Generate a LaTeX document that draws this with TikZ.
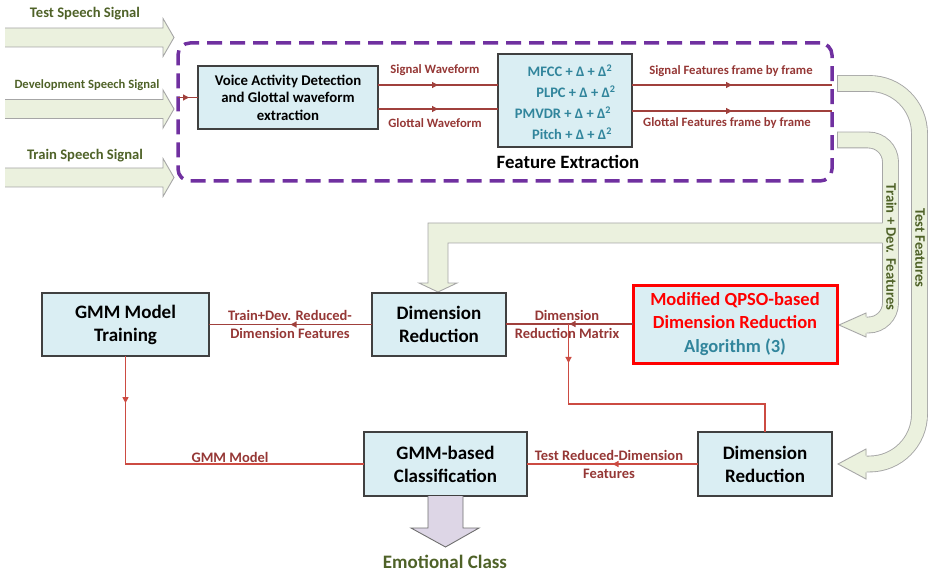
\documentclass[tikz,border=0pt]{standalone}
\usepackage{fontspec}
\setmainfont{Carlito}
\usetikzlibrary{arrows.meta,decorations.markings}
\definecolor{boxfill}{HTML}{DAEEF3}
\definecolor{boxline}{HTML}{404040}
\definecolor{lnred}{HTML}{A0403C}
\definecolor{lnbright}{HTML}{CC4B42}
\definecolor{lblred}{HTML}{953735}
\definecolor{grtext}{HTML}{4F6228}
\definecolor{bandfill}{HTML}{EBF1DE}
\definecolor{bandline}{HTML}{A6A6A6}
\definecolor{purp}{HTML}{7030A0}
\definecolor{algteal}{HTML}{31859C}
\definecolor{lav}{HTML}{DDD6E6}
\definecolor{lavline}{HTML}{6F6F6F}
\newcommand{\inarrow}[1]{%
  \fill[bandfill] (5,#1-9.5) -- (163,#1-9.5) -- (163,#1-19) -- (174,#1) -- (163,#1+19) -- (163,#1+9.5) -- (5,#1+9.5) -- cycle;
  \draw[bandline, line width=0.9pt, line join=miter] (5,#1-9.5) -- (163,#1-9.5) -- (163,#1-19) -- (174,#1) -- (163,#1+19) -- (163,#1+9.5) -- (5,#1+9.5);}
\tikzset{
  box/.style={draw=boxline, fill=boxfill, line width=1.1pt, inner sep=0pt, outer sep=0pt, align=center,
    font=\fontsize{19}{23}\selectfont\bfseries, text=black},
  conn/.style={draw=lnred, line width=1.2pt},
  connb/.style={draw=lnbright, line width=1.2pt},
  midarr/.style={postaction={decorate,decoration={markings,mark=at position #1 with {\arrow{Triangle[length=6pt,width=6pt]}}}}},
  lbl/.style={text=lblred, inner sep=0pt, align=center, font=\fontsize{14.5}{18}\selectfont\bfseries},
  toplbl/.style={text=lblred, inner sep=0pt, font=\fontsize{12.7}{15}\selectfont\bfseries},
  grlbl/.style={text=grtext, inner sep=0pt, font=\fontsize{14.6}{17}\selectfont\bfseries},
  fetxt/.style={text=algteal, inner sep=0pt, font=\fontsize{14.5}{17}\selectfont\bfseries},
  band/.style={draw=bandline, line width=0.9pt, double=bandfill, double distance=15pt},
  bandedge/.style={draw=bandline, line width=0.9pt, line join=miter}
}
\begin{document}
\begin{tikzpicture}[x=1pt,y=-1pt]
\useasboundingbox (0,0) rectangle (929,572);

% input signal arrows
\inarrow{37.5}
\inarrow{109}
\inarrow{177.5}
\node[grlbl] (lt) at (85,14) {Test Speech Signal};
\node[grlbl, font=\fontsize{12.6}{15}\selectfont\bfseries] (ld) at (87,85) {Development Speech Signal};
\node[grlbl] (lr) at (85,156) {Train Speech Signal};

% feature extraction group
\node[draw=purp, line width=3.5pt, dash pattern=on 15pt off 8pt, rounded corners=12pt,
      minimum width=654pt, minimum height=138pt, inner sep=0pt, outer sep=0pt] (grp) at (505,112) {};
\node[box, font=\fontsize{14.8}{17.5}\selectfont\bfseries, minimum width=180pt, minimum height=63pt] (vad) at (288,97.5)
  {Voice Activity Detection\\and Glottal waveform\\extraction};
\node[box, minimum width=134pt, minimum height=93pt] (fe) at (565,100.5) {};
\node[fetxt] (f1) at (570,71) {MFCC + Δ + Δ\textsuperscript{2}};
\node[fetxt] (f2) at (576,92) {PLPC + Δ + Δ\textsuperscript{2}};
\node[fetxt] (f3) at (563,112.5) {PMVDR + Δ + Δ\textsuperscript{2}};
\node[fetxt] (f4) at (572,134) {Pitch + Δ + Δ\textsuperscript{2}};
\node[inner sep=0pt, font=\fontsize{18.8}{22}\selectfont\bfseries] (fet) at (568,162) {Feature Extraction};

\draw[conn, midarr=0.55] (grp.west |- vad.west) -- (vad.west);
\draw[conn, midarr=0.5] ([yshift=12.5pt]vad.east) -- ([yshift=12.5pt]vad.east -| fe.west);
\draw[conn, midarr=0.5] ([yshift=-11.5pt]vad.east) -- ([yshift=-11.5pt]vad.east -| fe.west);
\draw[conn, midarr=0.5] ([yshift=15.5pt]fe.east) -- ([yshift=15.5pt]fe.east -| grp.east);
\draw[conn, midarr=0.5] ([yshift=-10.5pt]fe.east) -- ([yshift=-10.5pt]fe.east -| grp.east);
\node[toplbl] (sw) at (435,70) {Signal Waveform};
\node[toplbl] (gw) at (435,123) {Glottal Waveform};
\node[toplbl] (sff) at (731,71) {Signal Features frame by frame};
\node[toplbl] (gff) at (727,123) {Glottal Features frame by frame};

% Test features band
\draw[band, rounded corners=50pt] (837,83.5) -- (919.5,83.5) -- (919.5,464) -- (866,464);
\fill[bandfill] (866.5,456) -- (866.5,449) -- (838,464) -- (866.5,479) -- (866.5,472) -- cycle;
\draw[bandedge] (866,455.6) -- (866,449) -- (838,464) -- (866,479) -- (866,472.4);
\draw[bandedge] (837,75.1) -- (837,91.9);

% Train + Dev features band
\draw[band, rounded corners=22pt] (837,140) -- (890.5,140) -- (890.5,325) -- (866,325);
\fill[bandfill] (866.5,317) -- (866.5,313) -- (839,325) -- (866.5,337) -- (866.5,333) -- cycle;
\draw[bandedge] (866,316.6) -- (866,313) -- (839,325) -- (866,337) -- (866,333.4);
\draw[bandedge] (837,131.6) -- (837,148.4);

% L-shaped band to dimension reduction
\fill[bandfill] (884.5,223) -- (428,223) -- (428,283) -- (419,283) -- (438,292) -- (457,283) -- (448,283) -- (448,243) -- (884.5,243) -- cycle;
\draw[bandedge] (882.5,223) -- (428,223) -- (428,283) -- (419,283) -- (438,292) -- (457,283) -- (448,283) -- (448,243) -- (882.5,243);

\node[grlbl, rotate=-90] (tf) at (920,248) {Test Features};
\node[grlbl, rotate=-90] (tdf) at (891.5,247) {Train + Dev. Features};

% lower boxes
\node[box, minimum width=167pt, minimum height=63pt] (gmmt) at (125.5,324.5) {GMM Model\\Training};
\node[box, minimum width=134pt, minimum height=63pt] (dr1) at (439,324.5) {Dimension\\Reduction};
\node[box, draw=red, line width=3pt, minimum width=204pt, minimum height=78pt, text=red,
      font=\fontsize{18.5}{23.5}\selectfont\bfseries] (qpso) at (735,324)
  {Modified QPSO-based\\Dimension Reduction\\\textcolor{algteal}{Algorithm (3)}};
\node[box, minimum width=134pt, minimum height=64pt] (dr2) at (765,464) {Dimension\\Reduction};
\node[box, minimum width=163pt, minimum height=64pt] (gmmc) at (445.5,464) {GMM-based\\Classification};

% lower connectors
\draw[conn, midarr=0.5] (dr1.west) -- (gmmt.east |- dr1.west);
\draw[conn, midarr=0.5] (qpso.west) -- (qpso.west -| dr1.east);
\coordinate (jn) at (568.5,324);
\coordinate (bend) at (568.5,404);
\draw[connb, midarr=0.128] (jn) -- (bend) -| (dr2.north);
\draw[connb, midarr=0.5] (dr2.west) -- (gmmc.east);
\draw[connb, midarr=0.136] (gmmt.south) |- (gmmc.west);

\node[lbl] (l1) at (290,324) {Train+Dev. Reduced-\\Dimension Features};
\node[lbl] (l2) at (567,324) {Dimension\\Reduction Matrix};
\node[lbl] (l3) at (609,464) {Test Reduced-Dimension\\Features};
\node[lbl] (l4) at (230,457) {GMM Model};

% output arrow
\fill[lav] (428,496) -- (428,528) -- (411,528) -- (445.5,547) -- (479,528) -- (463,528) -- (463,496) -- cycle;
\draw[draw=lavline, line width=0.9pt, line join=miter] (428,496) -- (428,528) -- (411,528) -- (445.5,547) -- (479,528) -- (463,528) -- (463,496);
\node[grlbl, font=\fontsize{19}{22}\selectfont\bfseries] (emo) at (445,562) {Emotional Class};
\end{tikzpicture}
\end{document}
